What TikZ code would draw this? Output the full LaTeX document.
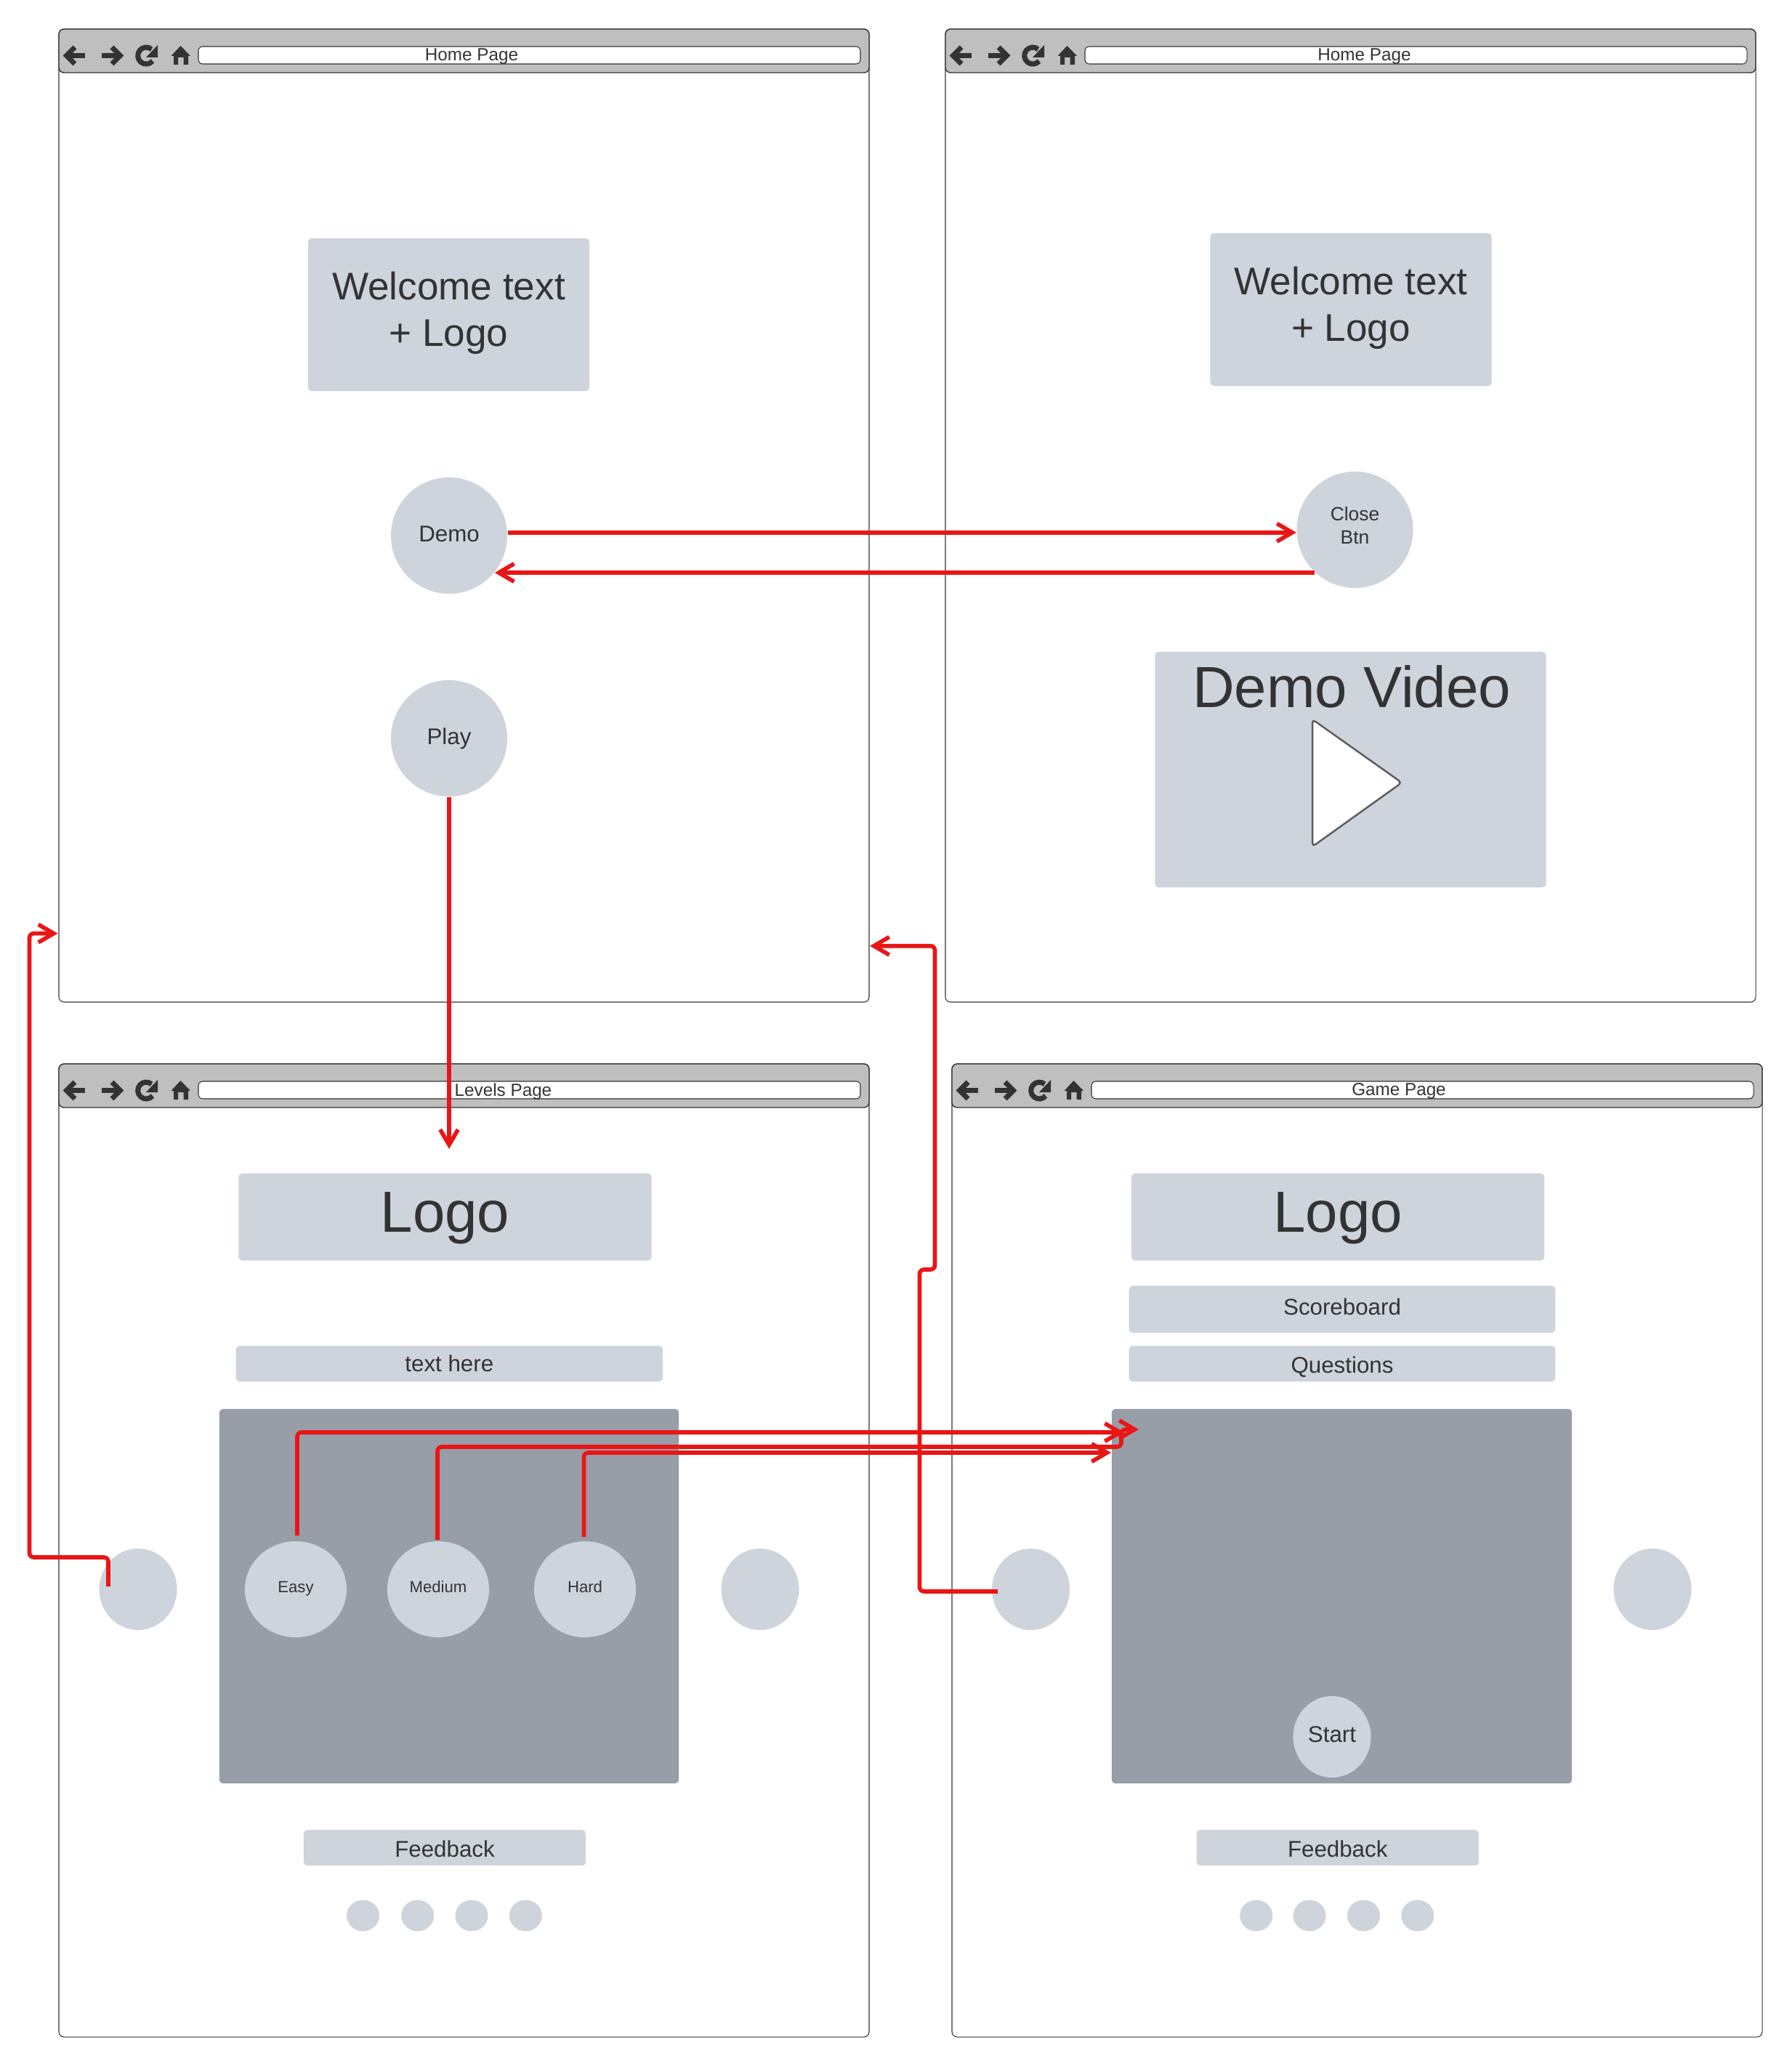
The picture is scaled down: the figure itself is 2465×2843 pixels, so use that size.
\documentclass[tikz,border=0pt]{standalone}
\usepackage{fontspec}
\setmainfont{Liberation Sans}
\usetikzlibrary{arrows.meta,shapes.geometric}
\definecolor{panellight}{HTML}{CED4DC}
\definecolor{paneldark}{HTML}{979EA8}
\definecolor{barfill}{HTML}{BFBFBF}
\definecolor{inkdark}{HTML}{333333}
\definecolor{linkred}{HTML}{EA1515}
\tikzset{
	% ---- default
	every node/.style={text=inkdark, inner sep=0pt},
	% ---- custom
	window/.style={draw=inkdark, line width=0.3pt, fill=white, rounded corners=0.7mm},
	toolbar/.style={draw=inkdark, line width=0.4pt, fill=barfill, rounded corners=0.7mm},
	address/.style={draw=inkdark, line width=0.3pt, fill=white, rounded corners=0.6mm},
	icon/.style={line width=2pt, draw=inkdark},
	box/.style={rectangle, fill=panellight, rounded corners=0.5mm, align=center},
	darkbox/.style={rectangle, fill=paneldark, rounded corners=0.5mm},
	ball/.style={ellipse, fill=panellight, align=center},
	bigtext/.style={font=\fontsize{15.1}{18.1}\selectfont, text depth=4.4pt},
	hugetext/.style={font=\fontsize{22.7}{26}\selectfont},
	midtext/.style={font=\fontsize{8.9}{10.7}\selectfont},
	smalltext/.style={font=\fontsize{7.5}{9.3}\selectfont},
	tinytext/.style={font=\fontsize{6.3}{7.5}\selectfont, text height=4.7pt, text depth=2pt},
	link/.style={draw=linkred, line width=1.6pt, rounded corners=0.6mm, -{Straight Barb[length=6pt,width=7pt]}},
}

\begin{document}
\begin{tikzpicture}[x=0.01cm, y=-0.01cm]

% page %{{{2

	\useasboundingbox (0,0) rectangle (2465,2843);

% windows %{{{2

	\foreach \wx/\wy/\wtx/\wtitle in {81/40/649/Home Page, 1301/40/1877.5/Home Page, 81/1464/692.5/Levels Page, 1310/1464/1925/Game Page}
	{
		\begin{scope}[shift={(\wx,\wy)}]
			\draw[window] (0,0) rectangle (1115,1339);
			\draw[toolbar] (0,0) rectangle (1115,60);
			\draw[address] (192,24) rectangle (1103,48);
			% back, forward
			\draw[icon] (36,36.5) -- (14,36.5);
			\draw[icon] (22,25) -- (10.5,36.5) -- (22,48);
			\draw[icon] (59,36.5) -- (82,36.5);
			\draw[icon] (73,25) -- (84.5,36.5) -- (73,48);
			% reload
			\draw[icon] (129,44) arc[start angle=40, end angle=310, radius=11.5];
			\fill[inkdark] (136,22) -- (136,39) -- (120,39) -- cycle;
			% home
			\fill[inkdark] (167.5,23) -- (181,37) -- (178,37) -- (178,49) -- (171.5,49) -- (171.5,39) -- (164,39) -- (164,49) -- (158,49) -- (158,37) -- (154.5,37) -- cycle;
		\end{scope}
		\node[font=\fontsize{6.9}{8}\selectfont] (title-\wx-\wy) at (\wtx,\wy+38) {\wtitle};
	}

% home page %{{{2

	\node[box, bigtext, minimum width=3.87cm, minimum height=2.10cm] (welcomeA) at (617.5,433) {Welcome text\\+ Logo};
	\node[ball, midtext, text depth=1.1pt, minimum width=1.60cm, minimum height=1.60cm] (demo) at (618,737) {Demo};
	\node[ball, midtext, minimum width=1.60cm, minimum height=1.60cm] (play) at (618,1016) {Play};

% home page with video %{{{2

	\node[box, bigtext, minimum width=3.87cm, minimum height=2.10cm] (welcomeB) at (1859,426) {Welcome text\\+ Logo};
	\node[ball, smalltext, text depth=3.4pt, minimum width=1.60cm, minimum height=1.60cm] (closebtn) at (1864.5,729) {Close\\Btn};
	\node[box, minimum width=5.38cm, minimum height=3.24cm] (video) at (1858.5,1059) {};
	\node[hugetext] (videotitle) at (1860,945) {Demo Video};
	\draw[draw=inkdark!80!white, line width=0.7pt, fill=white, rounded corners=0.5mm]
		(1806,990) -- (1929,1077) -- (1806,1165) -- cycle;

% levels page %{{{2

	\node[box, hugetext, text depth=3.6pt, minimum width=5.68cm, minimum height=1.20cm] (logoL) at (612.5,1674.6) {Logo};
	\node[box, midtext, minimum width=5.87cm, minimum height=0.49cm] (texthere) at (618.3,1876.5) {text here};
	\node[darkbox, minimum width=6.32cm, minimum height=5.15cm] (levelpanel) at (618,2196.5) {};
	\node[ball, tinytext, minimum width=1.40cm, minimum height=1.32cm] (easy) at (407,2187) {Easy};
	\node[ball, tinytext, minimum width=1.40cm, minimum height=1.32cm] (medium) at (603,2187) {Medium};
	\node[ball, tinytext, minimum width=1.40cm, minimum height=1.32cm] (hard) at (805,2187) {Hard};
	\node[ball, minimum width=1.07cm, minimum height=1.12cm] (prevL) at (190,2187) {};
	\node[ball, minimum width=1.07cm, minimum height=1.12cm] (nextL) at (1046,2187) {};
	\node[box, midtext, text height=7.6pt, minimum width=3.88cm, minimum height=0.49cm] (feedbackL) at (612,2542.7) {Feedback};
	\foreach \dx/\dn in {499.5/a, 574.7/b, 649/c, 723.4/d}
		\node[ball, minimum width=0.45cm, minimum height=0.43cm] (dotL\dn) at (\dx,2636) {};

% game page %{{{2

	\node[box, hugetext, text depth=3.6pt, minimum width=5.68cm, minimum height=1.20cm] (logoG) at (1841,1674.6) {Logo};
	\node[box, midtext, text depth=2.2pt, minimum width=5.865cm, minimum height=0.645cm] (scoreboard) at (1847,1801.7) {Scoreboard};
	\node[box, midtext, text height=9.1pt, minimum width=5.865cm, minimum height=0.49cm] (questions) at (1847,1876.5) {Questions};
	\node[darkbox, minimum width=6.33cm, minimum height=5.15cm] (gamepanel) at (1846.5,2196.5) {};
	\node[ball, midtext, text depth=2pt, minimum width=1.07cm, minimum height=1.12cm] (start) at (1833,2390) {Start};
	\node[ball, minimum width=1.07cm, minimum height=1.12cm] (prevG) at (1418.5,2187) {};
	\node[ball, minimum width=1.07cm, minimum height=1.12cm] (nextG) at (2274,2187) {};
	\node[box, midtext, text height=7.6pt, minimum width=3.88cm, minimum height=0.49cm] (feedbackG) at (1840.7,2542.7) {Feedback};
	\foreach \dx/\dn in {1728.7/a, 1802/b, 1876.5/c, 1950.8/d}
		\node[ball, minimum width=0.45cm, minimum height=0.43cm] (dotG\dn) at (\dx,2636) {};

% link coordinates %{{{2

	\coordinate (levelsin) at (618,1581);
	\coordinate (easyout) at (409,2113);
	\coordinate (mediumout) at (602,2119);
	\coordinate (hardout) at (803.5,2115);
	\coordinate (easyin) at (1547,1971);
	\coordinate (mediumbend) at (1543,1991);
	\coordinate (mediumin) at (1567,1967);
	\coordinate (hardin) at (1529,1999);
	\coordinate (prevLout) at (149,2183);
	\coordinate (prevLtop) at (149,2143);
	\coordinate (prevLside) at (40.5,2143);
	\coordinate (homeinL) at (79.5,1284.5);
	\coordinate (prevGout) at (1373,2190);
	\coordinate (prevGstep) at (1265.5,1747);
	\coordinate (prevGjog) at (1286.5,1747);
	\coordinate (homeinR) at (1197,1301.7);

% links %{{{2

	\draw[link] (demo.3) -- (demo.3 -| closebtn.183);
	\draw[link] (closebtn.227.8) -- (closebtn.227.8 -| demo.-39.9);
	\draw[link] (play.south) -- (levelsin);
	\draw[link] (easyout) |- (easyin);
	\draw[link] (mediumout) |- (mediumbend) |- (mediumin);
	\draw[link] (hardout) |- (hardin);
	\draw[link] (prevLout) -- (prevLtop) -- (prevLside) |- (homeinL);
	\draw[link] (prevGout) -| (prevGstep) -- (prevGjog) |- (homeinR);

% closing %{{{2

\end{tikzpicture}
\end{document}
